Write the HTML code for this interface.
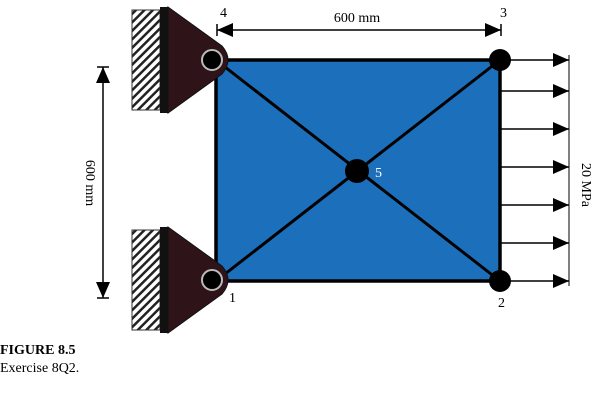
<!DOCTYPE html>
<html><head><meta charset="utf-8"><style>
body{margin:0;background:#fff}
svg{display:block}
text{font-family:"Liberation Serif",serif}
</style></head><body>
<svg width="603" height="405" viewBox="0 0 603 405" xmlns="http://www.w3.org/2000/svg">
<defs>
<pattern id="h" width="6" height="6" patternUnits="userSpaceOnUse" patternTransform="rotate(45)">
<rect width="6" height="6" fill="#fff"/><rect width="2.5" height="6" fill="#222"/>
</pattern>
<marker id="a" markerWidth="16" markerHeight="14" refX="16" refY="7" orient="auto-start-reverse" markerUnits="userSpaceOnUse" viewBox="0 0 16 14"><path d="M0,0 L16,7 L0,14z" fill="#000"/></marker>
</defs>
<!-- plate -->
<rect x="216" y="60" width="284" height="221" fill="#1c6fbb" stroke="#000" stroke-width="3.5"/>
<line x1="216" y1="281" x2="500" y2="60" stroke="#000" stroke-width="3"/>
<line x1="216" y1="60" x2="500" y2="281" stroke="#000" stroke-width="3"/>
<circle cx="357" cy="171" r="12" fill="#000"/>
<circle cx="500" cy="60" r="11" fill="#000"/>
<circle cx="500" cy="281" r="11" fill="#000"/>
<!-- supports -->
<g>
<rect x="132" y="10" width="28" height="100" fill="url(#h)" stroke="#333" stroke-width="1"/>
<rect x="160" y="7" width="8" height="106" fill="#111"/>
<path d="M168,7 L222,46 Q234,60 222,74 L168,113 Z" fill="#2e1418" stroke="#111" stroke-width="1"/>
<circle cx="212" cy="60" r="10" fill="#000" stroke="#bbb" stroke-width="2"/>
</g>
<g transform="translate(0,220)">
<rect x="132" y="10" width="28" height="100" fill="url(#h)" stroke="#333" stroke-width="1"/>
<rect x="160" y="7" width="8" height="106" fill="#111"/>
<path d="M168,7 L222,46 Q234,60 222,74 L168,113 Z" fill="#2e1418" stroke="#111" stroke-width="1"/>
<circle cx="212" cy="60" r="10" fill="#000" stroke="#bbb" stroke-width="2"/>
</g>
<!-- load arrows -->
<g stroke="#000" stroke-width="1.5">
<line x1="500" y1="60" x2="569" y2="60" marker-end="url(#a)"/>
<line x1="500" y1="91" x2="569" y2="91" marker-end="url(#a)"/>
<line x1="500" y1="129" x2="569" y2="129" marker-end="url(#a)"/>
<line x1="500" y1="167" x2="569" y2="167" marker-end="url(#a)"/>
<line x1="500" y1="205" x2="569" y2="205" marker-end="url(#a)"/>
<line x1="500" y1="243" x2="569" y2="243" marker-end="url(#a)"/>
<line x1="500" y1="281" x2="569" y2="281" marker-end="url(#a)"/>
<line x1="569" y1="55" x2="569" y2="286" stroke-width="1"/>
</g>
<text x="582" y="185" font-size="14" transform="rotate(90 582 185)" text-anchor="middle">20 MPa</text>
<!-- dims -->
<g stroke="#000" stroke-width="1.5">
<line x1="217" y1="30" x2="501" y2="30" marker-start="url(#a)" marker-end="url(#a)"/>
<line x1="217" y1="24" x2="217" y2="36"/>
<line x1="501" y1="24" x2="501" y2="36"/>
<line x1="103" y1="67" x2="103" y2="298" marker-start="url(#a)" marker-end="url(#a)"/>
<line x1="97" y1="67" x2="109" y2="67"/>
<line x1="97" y1="298" x2="109" y2="298"/>
</g>
<text x="357" y="22" font-size="14" text-anchor="middle">600 mm</text>
<text x="86" y="183" font-size="14" transform="rotate(90 86 183)" text-anchor="middle">600 mm</text>
<!-- labels -->
<text x="220" y="17" font-size="14">4</text>
<text x="500" y="17" font-size="14">3</text>
<text x="375" y="177" font-size="14" fill="#fff">5</text>
<text x="229" y="302" font-size="14">1</text>
<text x="498" y="307" font-size="14">2</text>
<text x="0" y="354" font-size="14" font-weight="bold">FIGURE 8.5</text>
<text x="0" y="372" font-size="14">Exercise 8Q2.</text>
</svg>
</body></html>
